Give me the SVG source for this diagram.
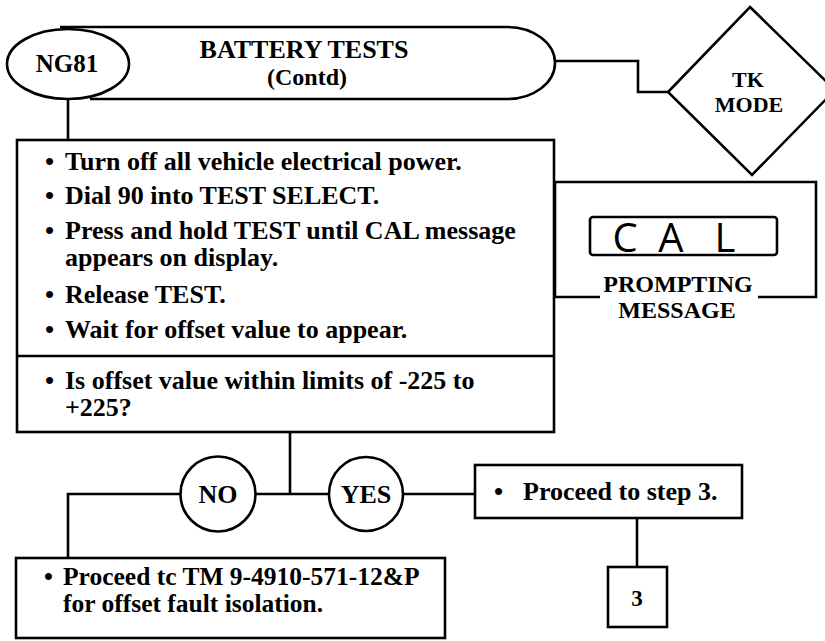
<svg xmlns="http://www.w3.org/2000/svg" width="825" height="641" viewBox="0 0 825 641">
<style>
.ln{fill:none;stroke:#000;stroke-width:2.6;stroke-linejoin:miter}
.bx{fill:#fff;stroke:#000;stroke-width:2.6}
.t{font-family:"Liberation Serif","Times New Roman",serif;font-weight:bold;font-size:26px;fill:#000}
.c{text-anchor:middle}
.seg{font-family:"Open Sans","Liberation Sans",sans-serif;font-weight:400;font-size:40px;fill:#000;text-anchor:middle}
</style>
<rect width="825" height="641" fill="#fff"/>
<g id="connectors">
<path class="ln" d="M68 99 V140"/>
<path class="ln" d="M555 61 H638 V92 H668"/>
<path class="ln" d="M290 432 V494"/>
<path class="ln" d="M68 558 V494 H180"/>
<path class="ln" d="M255 494 H330"/>
<path class="ln" d="M403 494 H475"/>
<path class="ln" d="M637 518 V567"/>
</g>
<g id="title">
<path class="bx" d="M60 27 H507 A48 36 0 0 1 507 99 H90"/>
<text class="t c" x="304" y="58">BATTERY TESTS</text>
<text class="t c" x="307" y="85" style="font-size:24px">(Contd)</text>
</g>
<g id="ng81">
<ellipse class="bx" cx="68" cy="64" rx="61" ry="35"/>
<text class="t c" x="67" y="72" style="font-size:25px">NG81</text>
</g>
<g id="tk-mode">
<polygon class="bx" points="750,7 835,90 752,175 668,92"/>
<text class="t c" x="748" y="87" style="font-size:22px">TK</text>
<text class="t c" x="749" y="112" style="font-size:22px">MODE</text>
</g>
<g id="steps">
<rect class="bx" x="17" y="140" width="537" height="292"/>
<path class="ln" d="M17 356 H554"/>
<text class="t" y="170"><tspan x="45">•</tspan><tspan x="65">Turn off all vehicle electrical power.</tspan></text>
<text class="t" y="204"><tspan x="45">•</tspan><tspan x="65">Dial 90 into TEST SELECT.</tspan></text>
<text class="t" y="239"><tspan x="45">•</tspan><tspan x="65">Press and hold TEST until CAL message</tspan></text>
<text class="t" x="65" y="266">appears on display.</text>
<text class="t" y="303"><tspan x="45">•</tspan><tspan x="65">Release TEST.</tspan></text>
<text class="t" y="338"><tspan x="45">•</tspan><tspan x="65">Wait for offset value to appear.</tspan></text>
<text class="t" y="389"><tspan x="45">•</tspan><tspan x="65">Is offset value within limits of -225 to</tspan></text>
<text class="t" x="65" y="416">+225?</text>
</g>
<g id="prompt">
<path class="ln" d="M600 297 H555 V182 H816 V297 H758"/>
<rect x="590" y="217" width="187" height="38" rx="3" fill="none" stroke="#000" stroke-width="2.6"/>
<text class="seg" y="252"><tspan x="625">C</tspan><tspan x="671">A</tspan><tspan x="725">L</tspan></text>
<text class="t c" x="678" y="292" style="font-size:24px">PROMPTING</text>
<text class="t c" x="677" y="318" style="font-size:24px">MESSAGE</text>
</g>
<g id="no">
<circle class="bx" cx="218" cy="494" r="37.5"/>
<text class="t c" x="218" y="503">NO</text>
</g>
<g id="yes">
<circle class="bx" cx="366" cy="494" r="37"/>
<text class="t c" x="366" y="503">YES</text>
</g>
<g id="proceed-step3">
<rect class="bx" x="475" y="465" width="267" height="53"/>
<text class="t" y="500"><tspan x="494">•</tspan><tspan x="523">Proceed to step 3.</tspan></text>
</g>
<g id="step3-ref">
<rect class="bx" x="608" y="567" width="59" height="60"/>
<text class="t c" x="637" y="606" style="font-size:23px">3</text>
</g>
<g id="proceed-tm">
<rect class="bx" x="16" y="558" width="429" height="80"/>
<text class="t" y="585" style="font-size:25.5px"><tspan x="44">•</tspan><tspan x="63">Proceed tc TM 9-4910-571-12&amp;P</tspan></text>
<text class="t" x="63" y="612" style="font-size:25.5px">for offset fault isolation.</text>
</g>
</svg>
